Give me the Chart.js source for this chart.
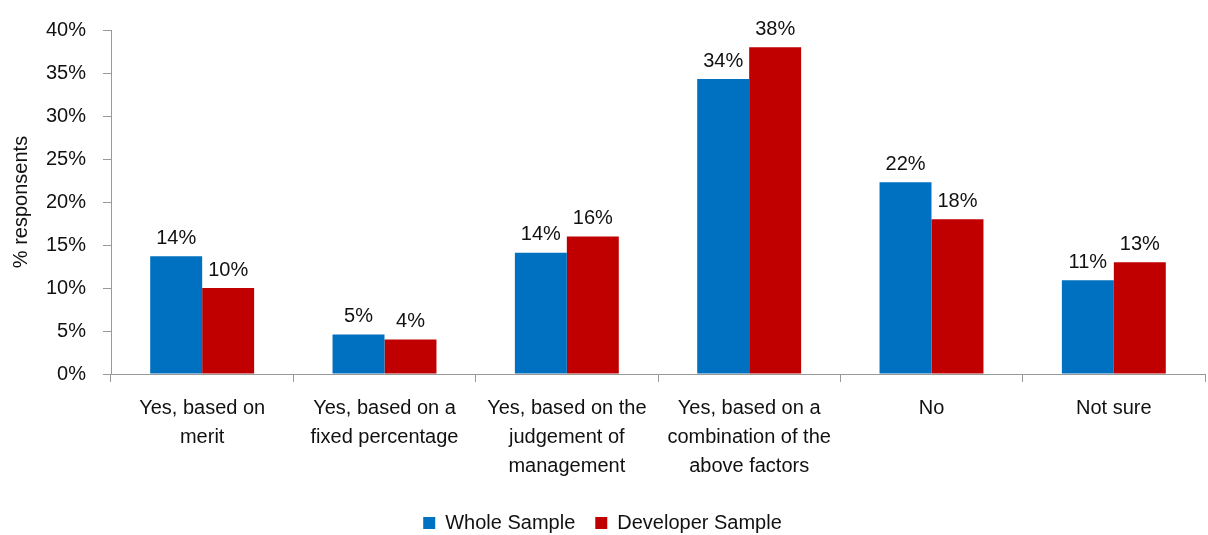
<!DOCTYPE html>
<html>
<head>
<meta charset="utf-8">
<script src="https://cdn.jsdelivr.net/npm/chart.js@4"></script>
<style>
  html, body { margin: 0; padding: 0; background: #fff; }
  #wrap { width: 1208px; height: 535px; }
</style>
</head>
<body>
<div id="wrap"><canvas id="chart"></canvas></div>
<script>
const categories = [
    ['Yes, based on', 'merit'],
    ['Yes, based on a', 'fixed percentage'],
    ['Yes, based on the', 'judgement of', 'management'],
    ['Yes, based on a', 'combination of the', 'above factors'],
    'No',
    'Not sure'
];
const wholeSample = [13.7, 4.6, 14.1, 34.3, 22.3, 10.9];
const developerSample = [10, 4, 16, 38, 18, 13];
const yTicks = [0, 5, 10, 15, 20, 25, 30, 35, 40];

const FONT = "'Liberation Sans Narrow', 'Arial Narrow', 'Liberation Sans', sans-serif";
const TEXT = '#111';

const barLabels = {
    id: 'barLabels',
    afterDatasetsDraw(chart) {
        const c = chart.ctx;
        c.save();
        c.font = '20px ' + FONT;
        c.fillStyle = TEXT;
        c.textAlign = 'center';
        c.textBaseline = 'bottom';
        chart.data.datasets.forEach((ds, i) => {
            chart.getDatasetMeta(i).data.forEach((bar, j) => {
                c.fillText(Math.round(ds.data[j]) + '%', bar.x, bar.y - 8);
            });
        });
        c.restore();
    }
};

let ctx = document.getElementById('chart').getContext('2d');
let myChart = new Chart(ctx, {
    type: 'bar',
    data: {
        labels: categories,
        datasets: [{
            label: 'Whole Sample',
            data: wholeSample,
            backgroundColor: '#0070C0',
            borderWidth: 0
        }, {
            label: 'Developer Sample',
            data: developerSample,
            backgroundColor: '#C00000',
            borderWidth: 0
        }]
    },
    options: {
        responsive: true,
        maintainAspectRatio: false,
        animation: false,
        layout: { padding: { top: 30, right: 3, left: 0, bottom: -8 } },
        datasets: { bar: { categoryPercentage: 0.57, barPercentage: 1.0 } },
        plugins: {
            tooltip: { enabled: false },
            legend: {
                position: 'bottom',
                labels: {
                    boxWidth: 12, boxHeight: 12, padding: 20,
                    color: TEXT,
                    font: { family: FONT, size: 20 }
                }
            }
        },
        scales: {
            x: {
                offset: true,
                grid: { drawOnChartArea: false, tickLength: 8, color: '#999', offset: true },
                border: { color: '#999' },
                ticks: {
                    color: TEXT,
                    padding: 12,
                    maxRotation: 0,
                    autoSkip: false,
                    font: { family: FONT, size: 20, lineHeight: 1.45 }
                },
                afterFit(scale) { scale.height = 119; }
            },
            y: {
                min: 0, max: 40,
                afterBuildTicks(scale) { scale.ticks = yTicks.map(v => ({ value: v })); },
                grid: { drawOnChartArea: false, tickLength: 8, color: '#999' },
                border: { color: '#999' },
                ticks: {
                    color: TEXT,
                    padding: 17,
                    font: { family: FONT, size: 20 },
                    callback: v => v + '%'
                },
                title: {
                    display: true,
                    text: '% responsents',
                    color: TEXT,
                    padding: { top: 9, bottom: 4 },
                    font: { family: FONT, size: 20 }
                },
                afterFit(scale) { scale.width = 111; }
            }
        }
    },
    plugins: [barLabels]
});
</script>
</body>
</html>
